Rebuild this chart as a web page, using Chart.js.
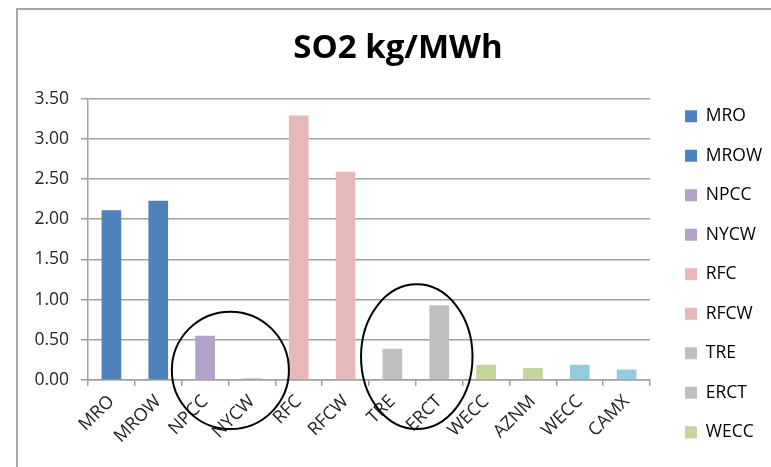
<!DOCTYPE html>
<html>
<head>
<meta charset="utf-8">
<script src="https://cdn.jsdelivr.net/npm/chart.js@4.4.0/dist/chart.umd.min.js"></script>
<style>
    html, body { margin: 0; padding: 0; background: #fff; }
    #wrap { position: relative; width: 771px; height: 467px; overflow: hidden; }
    #frame { position: absolute; left: 16px; top: 8px; right: -10px; bottom: -10px;
             border-left: 2px solid #a8a8a8; border-top: 2px solid #a8a8a8; }
    #so2-chart { position: absolute; left: 0; top: 0; }
</style>
</head>
<body>
<div id="wrap">
    <div id="frame"></div>
    <canvas id="so2-chart" width="771" height="467"></canvas>
</div>
<script>
'use strict';

// data
const regions = ['MRO', 'MROW', 'NPCC', 'NYCW', 'RFC', 'RFCW', 'TRE', 'ERCT', 'WECC', 'AZNM', 'WECC', 'CAMX'];
const so2Values = [2.11, 2.23, 0.55, 0.02, 3.29, 2.59, 0.39, 0.93, 0.19, 0.15, 0.19, 0.13];
const barColors = ['#4f81bd', '#4f81bd', '#b3a2c7', '#b3a2c7', '#e6b9b8', '#e6b9b8',
                   '#bfbfbf', '#bfbfbf', '#c3d69b', '#c3d69b', '#93cddd', '#93cddd'];
const legendShown = 9; // the legend only has room for the first nine

const FONT = 'Open Sans';
const GRID = '#a0a0a0';

// hand drawn rings around two pairs of bars (center in category/value units)
const rings = [
    {cx: 2.54, cy: 0.12, rx: 1.25, ry: 0.73},
    {cx: 6.52, cy: 0.29, rx: 1.19, ry: 0.90}
];

const ringPlugin = {
    id: 'rings',
    afterDraw(chart) {
        const x = chart.scales.x;
        const y = chart.scales.y;
        const catW = x.getPixelForValue(1) - x.getPixelForValue(0);
        const unit = y.getPixelForValue(0) - y.getPixelForValue(1);
        const ctx = chart.ctx;
        ctx.save();
        ctx.strokeStyle = '#000';
        ctx.lineWidth = 2;
        rings.forEach(r => {
            ctx.beginPath();
            ctx.ellipse(x.getPixelForValue(r.cx), y.getPixelForValue(r.cy),
                        r.rx * catW, r.ry * unit, 0, 0, Math.PI * 2);
            ctx.stroke();
        });
        ctx.restore();
    }
};

const ctx = document.getElementById('so2-chart').getContext('2d');
const so2Chart = new Chart(ctx, {
    type: 'bar',
    data: {
        labels: regions,
        datasets: [{
            label: 'SO2 kg/MWh',
            data: so2Values,
            backgroundColor: barColors,
            borderWidth: 0,
            barPercentage: 0.42,
            categoryPercentage: 1.0
        }]
    },
    options: {
        responsive: false,
        devicePixelRatio: 1,
        animation: false,
        layout: {
            padding: {left: 25, right: 0, top: 0, bottom: 4}
        },
        plugins: {
            title: {
                display: true,
                text: 'SO2 kg/MWh',
                color: '#000',
                font: {family: FONT, size: 33, weight: 'bold'},
                padding: {top: 29, bottom: 30}
            },
            legend: {
                display: true,
                position: 'right',
                align: 'end',
                maxWidth: 108,
                labels: {
                    boxWidth: 12,
                    boxHeight: 12,
                    padding: 22, // font + padding must stay a clean number, the column check is strict
                    color: '#000',
                    font: {family: FONT, size: 17.5},
                    generateLabels: () => regions.slice(0, legendShown).map((name, i) => ({
                        text: name,
                        fillStyle: barColors[i],
                        strokeStyle: barColors[i],
                        lineWidth: 0,
                        hidden: false,
                        index: i
                    }))
                },
                onClick: () => {}
            },
            tooltip: {enabled: false}
        },
        scales: {
            x: {
                grid: {
                    display: true,
                    drawOnChartArea: false,
                    drawTicks: true,
                    tickLength: 6,
                    color: GRID,
                    lineWidth: 1.5,
                    offset: true
                },
                border: {color: GRID, width: 1.5},
                ticks: {
                    autoSkip: false,
                    minRotation: 45,
                    maxRotation: 45,
                    padding: 5,
                    color: '#262626',
                    font: {family: FONT, size: 18}
                },
                afterFit: scale => { scale.height = 83; }
            },
            y: {
                min: 0,
                max: 3.5,
                grid: {color: GRID, lineWidth: 1.5, tickLength: 7},
                border: {color: GRID, width: 1.5},
                ticks: {
                    stepSize: 0.5,
                    padding: 12,
                    color: '#262626',
                    font: {family: FONT, size: 17.5},
                    callback: v => Number(v).toFixed(2)
                },
                afterFit: scale => { scale.width = 63; }
            },
            // empty strip between plot and legend
            gap: {
                type: 'linear',
                position: 'right',
                display: true,
                grid: {display: false, drawTicks: false},
                border: {display: false},
                ticks: {display: false},
                afterFit: scale => { scale.width = 13; }
            }
        }
    },
    plugins: [ringPlugin]
});
</script>
</body>
</html>
